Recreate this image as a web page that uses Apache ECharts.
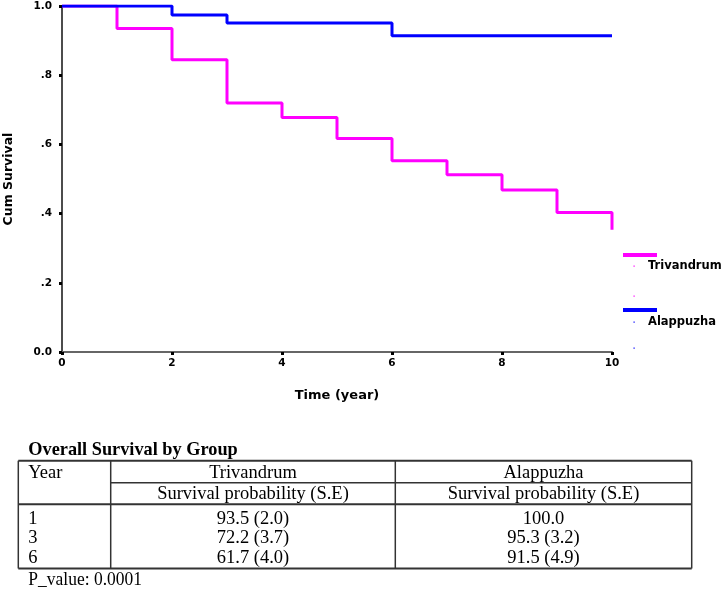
<!DOCTYPE html>
<html>
<head>
<meta charset="utf-8">
<script src="https://cdn.jsdelivr.net/npm/echarts@6/dist/echarts.min.js"></script>
<style>
html,body{margin:0;padding:0;background:#fff;}
#chart{width:722px;height:591px;}
</style>
</head>
<body>
<div id="chart"></div>
<script>
// ---- Data ----
const trivTimes = [0, 1, 2, 3, 4, 5, 6, 7, 8, 9, 10];
const trivSurv  = [1.0, 0.935, 0.845, 0.72, 0.678, 0.617, 0.553, 0.512, 0.468, 0.403, 0.353];
const alapTimes = [0, 2, 3, 6, 10];
const alapSurv  = [1.0, 0.974, 0.951, 0.914, 0.914];
const seriesNames = ['Trivandrum', 'Alappuzha'];
const yTickLabels = ['0.0', '.2', '.4', '.6', '.8', '1.0'];
const xTickLabels = ['0', '2', '4', '6', '8', '10'];

const tableTitle = 'Overall Survival by Group';
const tableYearHeader = 'Year';
const tableSubHeader = 'Survival probability (S.E)';
const tableYears = ['1', '3', '6'];
const trivTable = ['93.5 (2.0)', '72.2 (3.7)', '61.7 (4.0)'];
const alapTable = ['100.0', '95.3 (3.2)', '91.5 (4.9)'];
const pValueText = 'P_value: 0.0001';

// ---- Styling / layout ----
const MAGENTA = '#ff00ff';
const BLUE = '#0000ff';
const SANS = '"DejaVu Sans", Verdana, sans-serif';
const SERIF = '"Liberation Serif", "Times New Roman", serif';

const chart = echarts.init(document.getElementById('chart'), null, {renderer: 'canvas'});

const graphics = [];
// Legend (custom layout: line above, label below)
function legendItem(color, lineY, textY, dotY2, name) {
  graphics.push({type: 'line', shape: {x1: 623, y1: lineY, x2: 657, y2: lineY},
    style: {stroke: color, lineWidth: 4}});
  graphics.push({type: 'text', x: 648, y: textY,
    style: {text: name, font: 'bold 11.5px ' + SANS, fill: '#000', align: 'left', verticalAlign: 'middle'}});
  graphics.push({type: 'rect', shape: {x: 633.5, y: textY - 0.5, width: 1.2, height: 1.2}, style: {fill: color}});
  graphics.push({type: 'rect', shape: {x: 633.5, y: dotY2 - 0.5, width: 1.2, height: 1.2}, style: {fill: color}});
}
legendItem(MAGENTA, 255, 266, 296, seriesNames[0]);
legendItem(BLUE, 310, 322, 348, seriesNames[1]);

// Table
const tL = 18.3, tR = 691.7, tTop = 460.7, tHdr1 = 482.7, tHdr2 = 504.3, tBot = 568.5;
const c1 = 110.7, c2 = 395.3;
const border = '#333';
function hline(x1, x2, y, w) {
  graphics.push({type: 'line', shape: {x1: x1, y1: y, x2: x2, y2: y}, style: {stroke: border, lineWidth: w || 1.5}});
}
function vline(x, y1, y2, w) {
  graphics.push({type: 'line', shape: {x1: x, y1: y1, x2: x, y2: y2}, style: {stroke: border, lineWidth: w || 1.5}});
}
hline(tL, tR, tTop, 2);
hline(c1, tR, tHdr1, 1.5);
hline(tL, tR, tHdr2, 2);
hline(tL, tR, tBot, 2);
vline(tL, tTop, tBot);
vline(tR, tTop, tBot);
vline(c1, tTop, tBot);
vline(c2, tTop, tBot);

function txt(s, x, y, align, font) {
  graphics.push({type: 'text', x: x, y: y, scaleY: 1.06,
    style: {text: s, font: font || ('18.5px ' + SERIF), fill: '#000', align: align, verticalAlign: 'middle'}});
}
txt(tableTitle, 28.3, 450, 'left', 'bold 18.3px ' + SERIF);
txt(tableYearHeader, 28.3, 472.5, 'left');
const mid1 = (c1 + c2) / 2, mid2 = (c2 + tR) / 2;
txt(seriesNames[0], mid1, 472.5, 'center');
txt(seriesNames[1], mid2, 472.5, 'center');
txt(tableSubHeader, mid1, 494, 'center');
txt(tableSubHeader, mid2, 494, 'center');
const rowY = [518.5, 538, 557.5];
tableYears.forEach(function (yr, i) {
  txt(yr, 28.3, rowY[i], 'left');
  txt(trivTable[i], mid1, rowY[i], 'center');
  txt(alapTable[i], mid2, rowY[i], 'center');
});
txt(pValueText, 28.3, 580, 'left', '17.5px ' + SERIF);

const option = {
  backgroundColor: '#fff',
  animation: false,
  grid: {left: 62, right: 110, top: 6, bottom: 239, containLabel: false, outerBoundsMode: 'none'},
  xAxis: {
    type: 'value', min: 0, max: 10, interval: 2,
    name: 'Time (year)', nameLocation: 'middle', nameGap: 37,
    nameTextStyle: {fontFamily: SANS, fontWeight: 'bold', fontSize: 13, color: '#000'},
    axisLine: {lineStyle: {color: '#666', width: 2}},
    axisTick: {show: true, length: 3, lineStyle: {color: '#000', width: 3}},
    axisLabel: {margin: 6, fontFamily: SANS, fontWeight: 'bold', fontSize: 10.5, color: '#000',
      formatter: function (v) { return xTickLabels[Math.round(v / 2)]; }},
    splitLine: {show: false}
  },
  yAxis: {
    type: 'value', min: 0, max: 1, interval: 0.2,
    name: 'Cum Survival', nameLocation: 'middle', nameGap: 47,
    nameTextStyle: {fontFamily: SANS, fontWeight: 'bold', fontSize: 12.5, color: '#000'},
    axisLine: {show: true, lineStyle: {color: '#111', width: 1.5}},
    axisTick: {show: true, length: 3, lineStyle: {color: '#000', width: 3}},
    axisLabel: {margin: 10, fontFamily: SANS, fontWeight: 'bold', fontSize: 10.5, color: '#000',
      formatter: function (v) { return yTickLabels[Math.round(v / 0.2)]; }},
    splitLine: {show: false}
  },
  series: [
    {
      name: seriesNames[0], type: 'line', step: 'end', symbol: 'none', z: 2,
      lineStyle: {color: MAGENTA, width: 3}, itemStyle: {color: MAGENTA},
      data: trivTimes.map(function (t, i) { return [t, trivSurv[i]]; })
    },
    {
      name: seriesNames[1], type: 'line', step: 'end', symbol: 'none', z: 3,
      lineStyle: {color: BLUE, width: 3}, itemStyle: {color: BLUE},
      data: alapTimes.map(function (t, i) { return [t, alapSurv[i]]; })
    }
  ],
  graphic: graphics
};
chart.setOption(option);
</script>
</body>
</html>
